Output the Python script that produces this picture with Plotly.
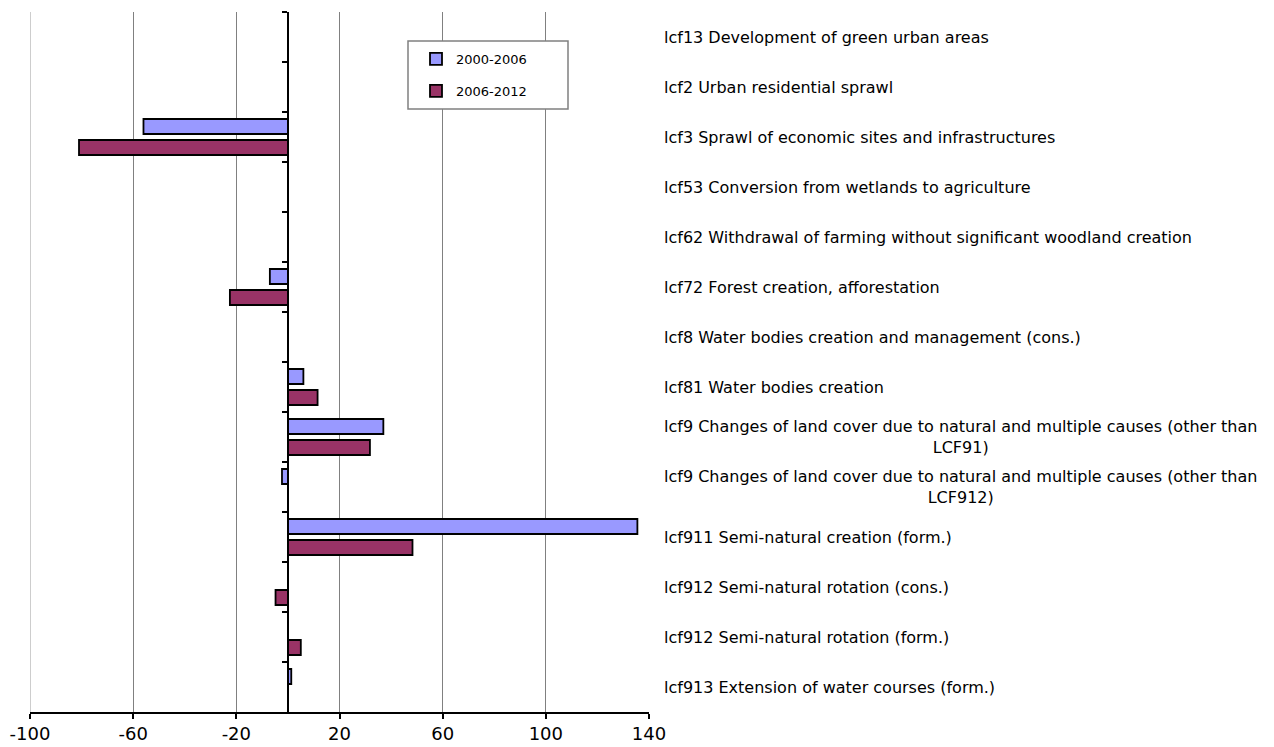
import plotly.graph_objects as go

# Land cover flows (lcf) and their net change per period
categories = [
    "lcf13 Development of green urban areas",
    "lcf2 Urban residential sprawl",
    "lcf3 Sprawl of economic sites and infrastructures",
    "lcf53 Conversion from wetlands to agriculture",
    "lcf62 Withdrawal of farming without significant woodland creation",
    "lcf72 Forest creation, afforestation",
    "lcf8 Water bodies creation and management (cons.)",
    "lcf81 Water bodies creation",
    "lcf9 Changes of land cover due to natural and multiple causes (other than LCF91)",
    "lcf9 Changes of land cover due to natural and multiple causes (other than LCF912)",
    "lcf911 Semi-natural creation (form.)",
    "lcf912 Semi-natural rotation (cons.)",
    "lcf912 Semi-natural rotation (form.)",
    "lcf913 Extension of water courses (form.)",
]

series_names = ["2000-2006", "2006-2012"]
values_2000_2006 = [None, None, -56, None, None, -7, None, 6, 37, -2.3, 135.5, None, None, 1.3]
values_2006_2012 = [None, None, -81, None, None, -22.5, None, 11.5, 31.8, None, 48.3, -4.8, 5, None]

x_ticks = [-100, -60, -20, 20, 60, 100, 140]
x_range = [-100, 140]

colors = ["#9999FF", "#993366"]
FONT = "DejaVu Sans"

fig = go.Figure()
for i, (name, vals) in enumerate(zip(series_names, [values_2000_2006, values_2006_2012])):
    fig.add_trace(go.Bar(
        y=categories, x=vals, name=name, orientation="h",
        marker=dict(color=colors[i], line=dict(color="#000000", width=1.8)),
        legendgroup=name,
    ))


def wrap(label, limit=72):
    if len(label) <= limit:
        return label
    head, tail = label.rsplit(" ", 1)
    return head + "<br>" + tail


# category names printed to the right of the plotting area
for cat in categories:
    fig.add_annotation(
        x=(662 - 30) / 619, xref="paper", y=cat, yref="y",
        text=wrap(cat), showarrow=False, xanchor="left", align="center",
        font=dict(family=FONT, size=16, color="#000000"),
    )

# left border of the plotting area
fig.add_shape(type="line", xref="x", yref="paper",
              x0=x_range[0], x1=x_range[0], y0=0, y1=1,
              line=dict(color="#BDBDBD", width=1.5), layer="below")

# framed legend panel
fig.add_shape(type="rect", xref="paper", yref="paper",
              x0=(408 - 30) / 619, x1=(568 - 30) / 619,
              y0=1 - (109 - 12) / 700, y1=1 - (41 - 12) / 700,
              line=dict(color="#808080", width=1.5), fillcolor="#FFFFFF", layer="above")

zero_pos = (0 - x_range[0]) / (x_range[1] - x_range[0])

fig.update_layout(
    width=1274, height=747,
    margin=dict(l=30, r=625, t=12, b=35, autoexpand=False),
    paper_bgcolor="#FFFFFF", plot_bgcolor="#FFFFFF",
    barmode="group", bargap=0.16, bargroupgap=0.286,
    font=dict(family=FONT, color="#000000"),
    showlegend=True,
    legend=dict(
        x=(416 - 30) / 619, y=1 - (44 - 12) / 700, xanchor="left", yanchor="top",
        bgcolor="rgba(0,0,0,0)", borderwidth=0,
        font=dict(family=FONT, size=13, color="#000000"),
        tracegroupgap=12, traceorder="grouped",
    ),
    xaxis=dict(
        range=x_range, tickvals=x_ticks, ticktext=[str(v) for v in x_ticks],
        showgrid=True, gridcolor="#808080", gridwidth=1.2,
        zeroline=False, showline=True, linecolor="#000000", linewidth=1.5,
        ticks="outside", ticklen=5, tickwidth=1.5, tickcolor="#000000",
        tickfont=dict(family=FONT, size=18, color="#000000"),
        domain=[0, 1], automargin=False,
    ),
    yaxis=dict(
        type="category", categoryorder="array", categoryarray=categories,
        autorange="reversed",
        anchor="free", position=zero_pos,
        showline=True, linecolor="#000000", linewidth=2,
        ticks="outside", tickson="boundaries", ticklen=5, tickwidth=1.5, tickcolor="#000000",
        showticklabels=False, showgrid=False, zeroline=False, automargin=False,
    ),
)

fig.write_html("out.html")
